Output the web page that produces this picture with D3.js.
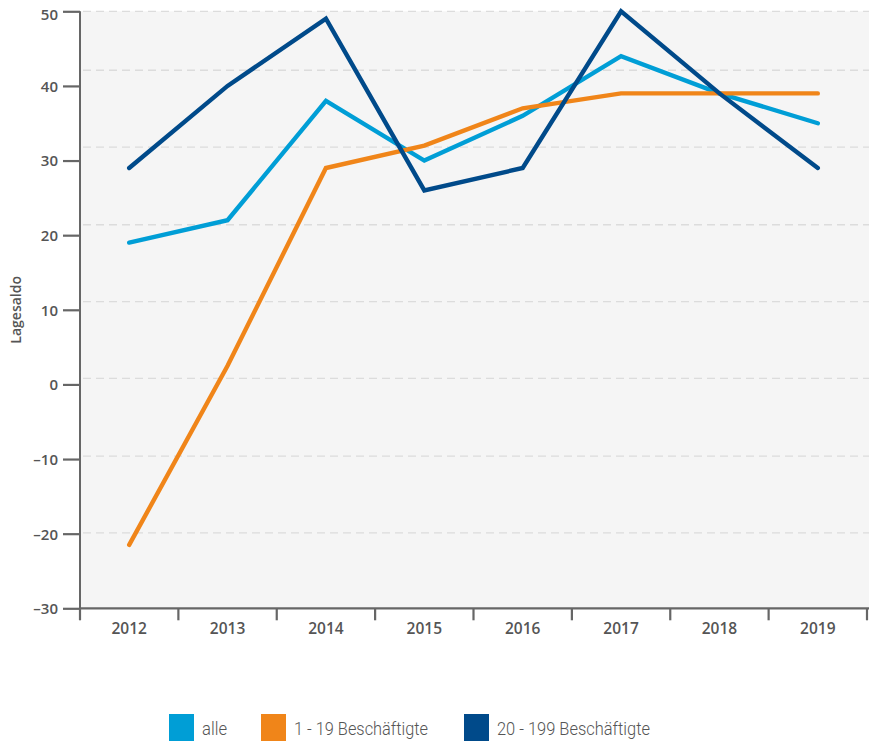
<!DOCTYPE html>
<html>
<head>
<meta charset="utf-8">
<script src="https://cdn.jsdelivr.net/npm/d3@7"></script>
<style>
  body { margin: 0; background: #fff; }
  svg { display: block; }
</style>
</head>
<body>
<script>
var years = ['2012', '2013', '2014', '2015', '2016', '2017', '2018', '2019'],
    alle = [19, 22, 38, 30, 36, 44, 39, 35],
    klein = [-21.5, 2.5, 29, 32, 37, 39, 39, 39],
    gross = [29, 40, 49, 26, 29, 50, 39, 29],
    yTicks = [50, 40, 30, 20, 10, 0, -10, -20, -30],
    gridValues = [50, 42.1, 31.8, 21.4, 11.1, 0.8, -9.6, -19.9],
    seriesNames = ['alle', '1 - 19 Beschäftigte', '20 - 199 Beschäftigte'];

var colors = ['#009ed6', '#f08519', '#004a8a'];

var width = 869,
    height = 741,
    plot = { left: 80, right: 867, top: 11.3, bottom: 608.3 };

var x = d3.scaleBand()
        .domain(years)
        .range([plot.left, plot.right])
        .padding(0);

var y = d3.scaleLinear()
        .domain([-30, 50])
        .range([plot.bottom, plot.top]);

var svg = d3.select('body')
        .append('svg')
         .attr('width', width)
         .attr('height', height);

// plot background
svg.append('rect')
    .attr('x', plot.left)
    .attr('y', plot.top)
    .attr('width', plot.right - plot.left + 2)
    .attr('height', plot.bottom - plot.top)
    .attr('fill', '#f5f5f5');

// dashed grid
svg.append('g')
    .selectAll('line')
    .data(gridValues)
    .enter().append('line')
     .attr('x1', plot.left + 3)
     .attr('x2', plot.right + 2)
     .attr('y1', function(d) { return y(d); })
     .attr('y2', function(d) { return y(d); })
     .attr('stroke', '#dcdcdc')
     .attr('stroke-width', 1.3)
     .attr('stroke-dasharray', '8,5');

// axes
var yAxis = d3.axisLeft(y)
        .tickValues(yTicks)
        .tickSize(17)
        .tickPadding(5)
        .tickFormat(function(d) { return d < 0 ? '–' + Math.abs(d) : d; });

var gy = svg.append('g')
    .attr('transform', 'translate(' + plot.left + ',0)')
    .call(yAxis);

gy.select('.domain').remove();
gy.append('line')
    .attr('x1', 0).attr('x2', 0)
    .attr('y1', plot.top).attr('y2', plot.bottom)
    .attr('stroke', '#666').attr('stroke-width', 2);
gy.selectAll('.tick line').attr('stroke', '#666').attr('stroke-width', 2.2);
gy.selectAll('.tick text')
    .attr('fill', '#555')
    .style('font-family', '"Open Sans", sans-serif')
    .style('font-size', '15px')
    .style('font-weight', 600)
    .attr('dy', '0.36em');
gy.selectAll('.tick').filter(function(d) { return d === 50; })
    .select('text').attr('dy', '0.55em');

var xAxis = d3.axisBottom(x)
        .tickSize(0)
        .tickPadding(0);

var gx = svg.append('g')
    .attr('transform', 'translate(0,' + plot.bottom + ')')
    .call(xAxis);

gx.select('.domain').remove();
gx.selectAll('.tick line').remove();
gx.append('line')
    .attr('x1', plot.left - 1).attr('x2', plot.right + 2)
    .attr('y1', 0).attr('y2', 0)
    .attr('stroke', '#666').attr('stroke-width', 2.2);
gx.selectAll('.sep')
    .data(years.concat(['end']))
    .enter().append('line')
     .attr('class', 'sep')
     .attr('x1', function(d, i) { return i < years.length ? x(d) : x.range()[1]; })
     .attr('x2', function(d, i) { return i < years.length ? x(d) : x.range()[1]; })
     .attr('y1', 0).attr('y2', 12)
     .attr('stroke', '#666').attr('stroke-width', 2.2);
gx.selectAll('.tick text')
    .attr('fill', '#555')
    .attr('y', 26)
    .attr('dy', 0)
    .style('font-family', '"Open Sans", sans-serif')
    .style('font-size', '15.5px')
    .style('font-weight', 600);

// y label
svg.append('text')
    .attr('transform', 'translate(21,' + ((plot.top + plot.bottom) / 2) + ') rotate(-90)')
    .attr('text-anchor', 'middle')
    .attr('fill', '#555')
    .style('font-family', '"Open Sans", sans-serif')
    .style('font-size', '14px')
    .style('font-weight', 600)
    .text('Lagesaldo');

// lines
var line = d3.line()
        .x(function(d, i) { return x(years[i]) + x.bandwidth() / 2; })
        .y(function(d) { return y(d); });

svg.append('g')
    .selectAll('path')
    .data([alle, klein, gross])
    .enter().append('path')
     .attr('d', line)
     .attr('fill', 'none')
     .attr('stroke', function(d, i) { return colors[i]; })
     .attr('stroke-width', 4.4)
     .attr('stroke-linecap', 'round')
     .attr('stroke-linejoin', 'miter');

// legend (narrow face in the original, so squeeze the text)
var legendX = [169, 261, 464],
    legendTextW = [25, 134, 153];

var legend = svg.append('g')
    .selectAll('g')
    .data(seriesNames)
    .enter().append('g')
     .attr('transform', function(d, i) { return 'translate(' + legendX[i] + ',714)'; });

legend.append('rect')
    .attr('width', 25)
    .attr('height', 27)
    .attr('fill', function(d, i) { return colors[i]; });

legend.append('text')
    .attr('x', 33)
    .attr('y', 21)
    .attr('fill', '#555')
    .attr('textLength', function(d, i) { return legendTextW[i]; })
    .attr('lengthAdjust', 'spacingAndGlyphs')
    .style('font-family', 'Roboto, sans-serif')
    .style('font-size', '18px')
    .style('font-weight', 300)
    .text(function(d) { return d; });
</script>
</body>
</html>
